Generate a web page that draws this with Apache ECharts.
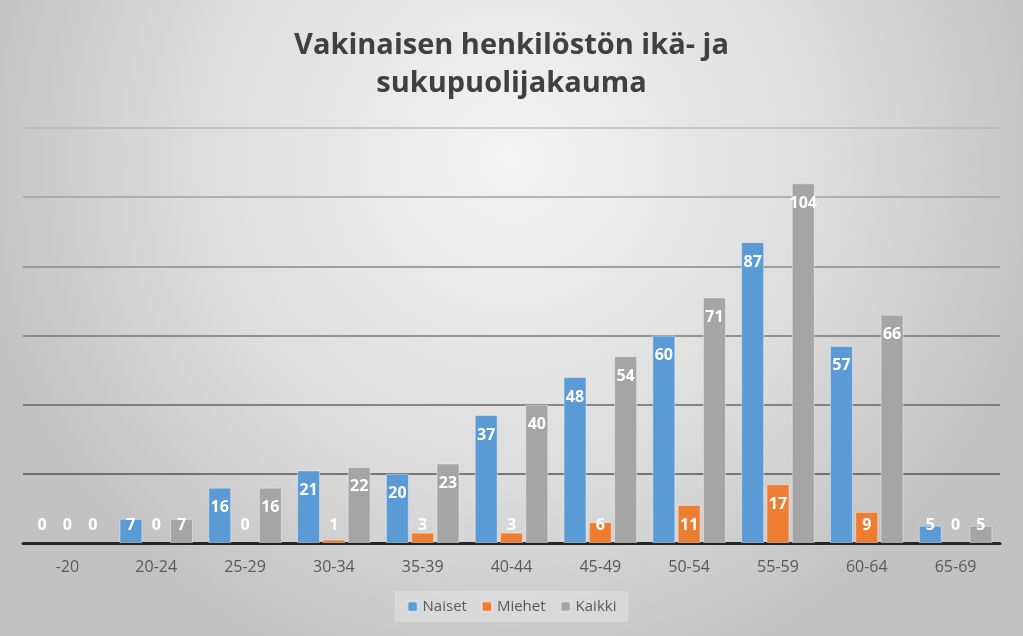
<!DOCTYPE html>
<html>
<head>
<meta charset="utf-8">
<script src="https://cdn.jsdelivr.net/npm/echarts@6/dist/echarts.min.js"></script>
<style>
  html, body { margin: 0; padding: 0; background: #9a9a9a; }
  #chart { width: 1023px; height: 636px; }
</style>
</head>
<body>
<div id="chart"></div>
<script>
  var categories = ['-20', '20-24', '25-29', '30-34', '35-39', '40-44', '45-49', '50-54', '55-59', '60-64', '65-69'];
  var naiset = [0, 7, 16, 21, 20, 37, 48, 60, 87, 57, 5];
  var miehet = [0, 0, 0, 1, 3, 3, 6, 11, 17, 9, 0];
  var kaikki = [0, 7, 16, 22, 23, 40, 54, 71, 104, 66, 5];

  // small bars get the label near the baseline, like Excel does
  function withLabels(values) {
    return values.map(function (v) {
      return {
        value: v,
        itemStyle: v === 0 ? { borderWidth: 0 } : undefined,
        label: v < 12 ? { position: 'insideBottom', distance: 10 } : { position: 'insideTop', distance: 12 }
      };
    });
  }

  var myChart = echarts.init(document.getElementById('chart'));

  var labelStyle = {
    show: true,
    color: '#ffffff',
    fontFamily: 'Open Sans',
    fontWeight: 'bold',
    fontSize: 16
  };

  function makeSeries(name, values, color) {
    return {
      name: name,
      type: 'bar',
      barWidth: 23,
      barGap: '10%',
      data: withLabels(values),
      itemStyle: {
        color: color,
        borderColor: 'rgba(255,255,255,0.4)',
        borderWidth: 1
      },
      label: labelStyle
    };
  }

  var option = {
    animation: false,
    backgroundColor: {
      type: 'radial',
      x: 0.5, y: 0.25, r: 0.85,
      colorStops: [
        { offset: 0, color: '#f4f4f4' },
        { offset: 0.6, color: '#dcdcdc' },
        { offset: 1, color: '#c2c2c2' }
      ]
    },
    title: {
      text: 'Vakinaisen henkilöstön ikä- ja\nsukupuolijakauma',
      left: 'center',
      top: 22,
      textStyle: {
        fontFamily: 'Open Sans',
        fontWeight: 'bold',
        fontSize: 29,
        lineHeight: 38,
        color: '#404040'
      }
    },
    legend: {
      bottom: 14,
      left: 'center',
      itemWidth: 10,
      itemHeight: 10,
      itemGap: 14,
      padding: [8, 12],
      backgroundColor: 'rgba(255,255,255,0.25)',
      textStyle: { fontFamily: 'Open Sans', fontSize: 15, color: '#595959' },
      data: ['Naiset', 'Miehet', 'Kaikki']
    },
    grid: { left: 23, right: 23, top: 128, bottom: 93 },
    xAxis: {
      type: 'category',
      data: categories,
      axisTick: { show: false },
      axisLine: { lineStyle: { color: '#262626', width: 3 } },
      axisLabel: { fontFamily: 'Open Sans', fontSize: 16, color: '#595959', margin: 16 }
    },
    yAxis: {
      type: 'value',
      min: 0,
      max: 120,
      interval: 20,
      axisLabel: { show: false },
      axisLine: { show: false },
      splitLine: {
        lineStyle: {
          width: 1.5,
          color: ['#333333', '#555555', '#666666', '#777777', '#888888', '#a0a0a0', '#b8b8b8']
        }
      }
    },
    series: [
      makeSeries('Naiset', naiset, '#5b9bd5'),
      makeSeries('Miehet', miehet, '#ed7d31'),
      makeSeries('Kaikki', kaikki, '#a5a5a5')
    ]
  };

  myChart.setOption(option);
</script>
</body>
</html>
